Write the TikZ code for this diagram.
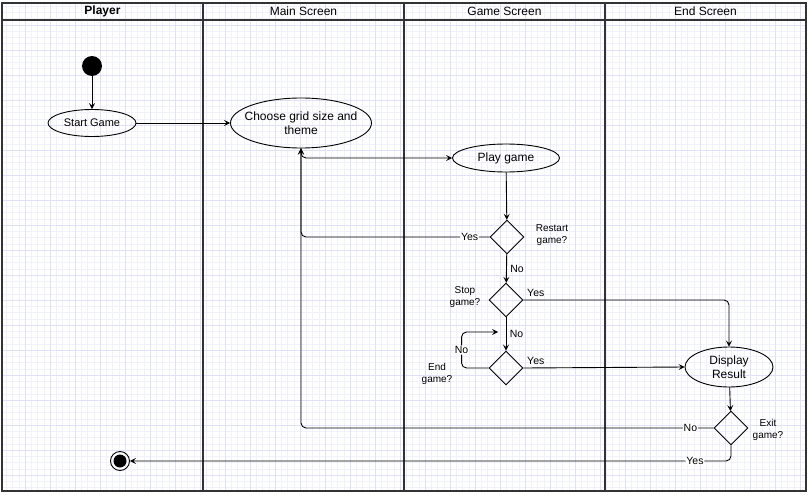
\documentclass[tikz,border=0pt]{standalone}
\usepackage{fontspec}
\setmainfont{Liberation Sans}
\usepackage{xcolor}
\usetikzlibrary{arrows.meta, shapes.geometric, positioning}

\definecolor{gridminor}{HTML}{F1F1FB}
\definecolor{gridmajor}{HTML}{E0E0F8}
\definecolor{laneline}{HTML}{333333}

\begin{document}
\begin{tikzpicture}[
  x=1pt, y=-1pt,
  font=\fontsize{11}{13}\selectfont,
  lane/.style={draw=laneline, line width=1.3pt},
  lanehead/.style={font=\fontsize{12}{14}\selectfont},
  actnode/.style={
    draw,
    ellipse,
    align=center,
    inner sep=0pt,
    line width=0.9pt
  },
  decision/.style={
    draw,
    diamond,
    minimum width=34pt,
    minimum height=34pt,
    inner sep=0pt,
    line width=0.9pt
  },
  question/.style={align=center, font=\fontsize{10}{12}\selectfont},
  edgelabel/.style={font=\fontsize{10.5}{12}\selectfont, fill=white, inner sep=1pt},
  arrow/.style={->, >={Stealth[length=6pt, width=6pt, inset=2.5pt]}, line width=0.9pt, rounded corners=5pt}
]
\useasboundingbox (0,0) rectangle (811,495);

% Fond quadrille
\fill[white] (0,0) rectangle (811,495);
\draw[gridminor, line width=0.5pt, step=6.25pt] (2,3) grid (806,491);
\draw[gridmajor, line width=0.6pt, step=25pt] (2,3) grid (806,491);

% Couloirs
\draw[lane] (2,3) rectangle (806,491);
\draw[lane] (2,20) -- (806,20);
\draw[lane] (203,3) -- (203,491);
\draw[lane] (404,3) -- (404,491);
\draw[lane] (605,3) -- (605,491);
\node[lanehead, font=\fontsize{12}{14}\selectfont\bfseries] (hplayer) at (102.5,11.5) {Player};
\node[lanehead] (hmain) at (303.5,11.5) {Main Screen};
\node[lanehead] (hgame) at (504.5,11.5) {Game Screen};
\node[lanehead] (hend) at (705.5,11.5) {End Screen};

% Noeuds
\node[circle, fill=black, minimum size=20pt, inner sep=0pt] (init) at (92,66) {};
\node[actnode, minimum width=88pt, minimum height=27pt, inner xsep=-4pt] (startgame) at (92,123) {Start Game};
\node[actnode, minimum width=141pt, minimum height=50pt, inner xsep=-14pt, font=\fontsize{12}{14}\selectfont] (choose) at (301,123) {Choose grid size and\\theme};
\node[actnode, minimum width=107pt, minimum height=28pt, inner xsep=-4pt, font=\fontsize{12}{14}\selectfont] (play) at (506,158) {Play game};
\node[decision] (restart) at (507,237) {};
\node[decision] (stopq) at (506,300) {};
\node[decision] (endq) at (506,368) {};
\node[actnode, minimum width=88pt, minimum height=40pt, inner ysep=-2pt, font=\fontsize{12}{14}\selectfont] (display) at (729,367) {Display\\Result};
\node[decision] (exitq) at (731,428) {};
\node[circle, draw, line width=0.9pt, minimum size=19pt, inner sep=0pt] (final) at (120,461) {};
\node[circle, fill=black, minimum size=13pt, inner sep=0pt] (finaldot) at (final) {};

% Questions
\node[question] (qrestart) at (552,235) {Restart\\game?};
\node[question] (qstop) at (465,297) {Stop\\game?};
\node[question] (qend) at (437,374) {End\\game?};
\node[question] (qexit) at (768,430) {Exit\\game?};

\coordinate (loopend) at (498,332);

% Fleches
\draw[arrow] (init) -- (startgame);
\draw[arrow] (startgame) -- (choose);
\draw[arrow] (choose.south) |- (play.west);
\draw[arrow] (play) -- (restart);
\draw[arrow] (restart.west) -| (choose.south)
  node[edgelabel, pos=0.053]{Yes};
\draw[arrow] (restart) -- (stopq)
  node[midway, right, font=\fontsize{10.5}{12}\selectfont]{No};
\draw[arrow] (stopq.east) -| (display.north)
  node[pos=0, above right, font=\fontsize{10.5}{12}\selectfont]{Yes};
\draw[arrow] (stopq) -- (endq)
  node[midway, right, font=\fontsize{10.5}{12}\selectfont]{No};
\draw[arrow] (endq.west) -- ++(-27,0) |- (loopend)
  node[edgelabel, pos=0.25]{No};
\draw[arrow] (endq.east) -- (display.west)
  node[pos=0, above right, font=\fontsize{10.5}{12}\selectfont]{Yes};
\draw[arrow] (display) -- (exitq);
\draw[arrow] (exitq.west) -| (choose.south)
  node[edgelabel, pos=0.028]{No};
\draw[arrow] (exitq.south) |- (final.east)
  node[edgelabel, pos=0.53]{Yes};

\end{tikzpicture}
\end{document}
